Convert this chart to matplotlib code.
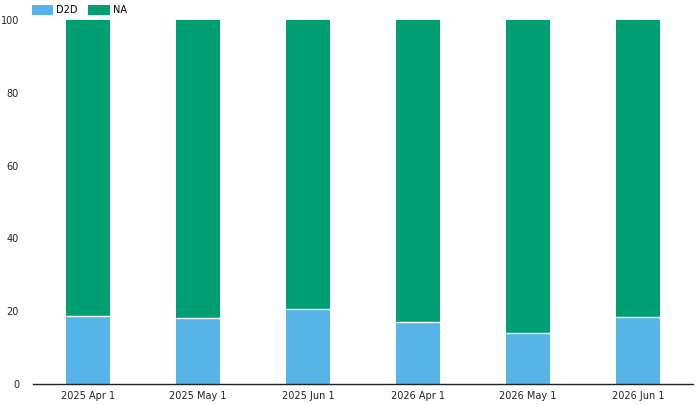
import matplotlib.pyplot as plt
from matplotlib.patches import Patch

# categories and values (percent)
dates = ["2025 Apr 1", "2025 May 1", "2025 Jun 1", "2026 Apr 1", "2026 May 1", "2026 Jun 1"]
d2d = [18.7, 18.1, 20.6, 16.9, 14.0, 18.3]
na = [100 - v for v in d2d]
colors = {"D2D": "#56B4E9", "NA": "#009E73"}

fig = plt.figure(figsize=(6.96, 4.05), dpi=100)
ax = fig.add_axes([33 / 696, 21 / 405, 660 / 696, 364 / 405])

x = range(len(dates))
ax.bar(x, d2d, width=0.4, color=colors["D2D"], linewidth=0)
ax.bar(x, na, width=0.4, bottom=d2d, color=colors["NA"], linewidth=0)
# thin white line between segments
ax.hlines(d2d, [i - 0.2 for i in x], [i + 0.2 for i in x], color="white", linewidth=1)

ax.set_xlim(-0.5, len(dates) - 0.5)
ax.set_ylim(0, 100)
ax.set_xticks(list(x))
ax.set_xticklabels(dates, fontsize=7, color="#222222")
ax.set_yticks([0, 20, 40, 60, 80, 100])
ax.tick_params(axis="y", length=0, pad=10, labelsize=7, labelcolor="#222222")
ax.tick_params(axis="x", length=0, pad=5)

for side in ["top", "right", "left"]:
    ax.spines[side].set_visible(False)
ax.spines["bottom"].set_color("#222222")
ax.spines["bottom"].set_linewidth(1)

handles = [Patch(facecolor=c, edgecolor="none", label=k) for k, c in colors.items()]
fig.legend(handles=handles, loc="upper left", bbox_to_anchor=(0.033, 1.01), ncol=2, frameon=False,
           fontsize=7, handlelength=2.2, handleheight=1.3, columnspacing=1.1, handletextpad=0.3)

fig.savefig("out.png", dpi=100)
